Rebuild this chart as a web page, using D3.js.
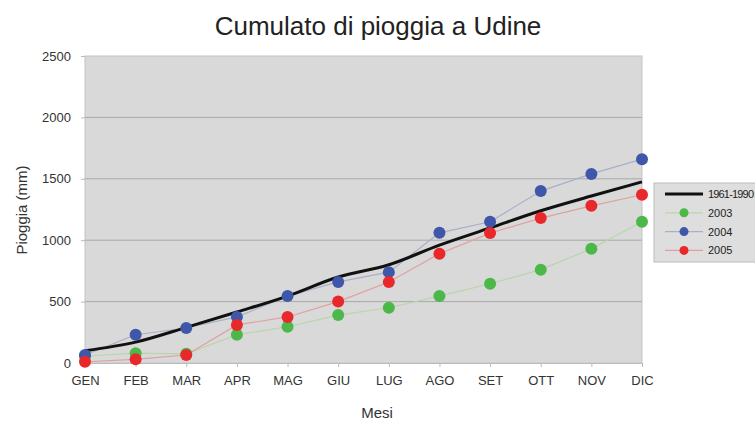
<!DOCTYPE html>
<meta charset="utf-8">
<style>
body { margin: 0; background: #fff; }
svg { font-family: "Liberation Sans", Arial, sans-serif; }
.tick text { fill: #333; font-size: 13px; }
</style>
<svg width="755" height="424"></svg>
<script src="https://d3js.org/d3.v7.min.js"></script>
<script>
// mesi e cumulati (mm)
var mesi = ["GEN","FEB","MAR","APR","MAG","GIU","LUG","AGO","SET","OTT","NOV","DIC"];
var normale = [100, 170, 290, 415, 545, 700, 800, 960, 1100, 1240, 1360, 1475];
var y2003 = [55, 80, 75, 230, 295, 390, 450, 545, 645, 760, 930, 1150];
var y2004 = [65, 230, 285, 375, 545, 660, 740, 1060, 1150, 1400, 1540, 1660];
var y2005 = [10, 30, 65, 310, 375, 500, 660, 890, 1058, 1180, 1280, 1370];
var yTicks = [0, 500, 1000, 1500, 2000, 2500];

var svg = d3.select("svg");
var pLeft = 85, pRight = 642, pTop = 56, pBottom = 363;

var x = d3.scalePoint().domain(mesi).range([pLeft, pRight]);
var y = d3.scaleLinear().domain([0, 2500]).range([pBottom, pTop]);

// sfondo area
svg.append("rect")
    .attr("x", pLeft).attr("y", pTop)
    .attr("width", pRight - pLeft).attr("height", pBottom - pTop)
    .attr("fill", "#d9d9d9")
    .attr("stroke", "#c4c4c4");

// griglia
svg.append("g").selectAll("line")
    .data(yTicks.slice(1, -1))
    .enter().append("line")
        .attr("x1", pLeft).attr("x2", pRight)
        .attr("y1", function(d) { return y(d); })
        .attr("y2", function(d) { return y(d); })
        .attr("stroke", "#a8a8a8");

svg.append("g")
    .attr("transform", "translate(" + pLeft + ",0)")
    .call(d3.axisLeft(y).tickValues(yTicks).tickFormat(d3.format("d")).tickSize(4).tickPadding(10))
    .call(function(g) { g.select(".domain").remove(); g.selectAll(".tick line").attr("stroke", "#bbb"); });

svg.append("g")
    .attr("transform", "translate(0," + pBottom + ")")
    .call(d3.axisBottom(x).tickSize(4).tickPadding(9))
    .call(function(g) { g.select(".domain").attr("stroke", "#bbb"); g.selectAll(".tick line").attr("stroke", "#bbb"); });

var serie = [
    {nome: "2003", val: y2003, col: "#4cb849", linea: "#b8d6a8"},
    {nome: "2004", val: y2004, col: "#3e57a8", linea: "#a8b0c8"},
    {nome: "2005", val: y2005, col: "#e8282b", linea: "#e0a0a0"}
];

var line = d3.line()
    .x(function(d, i) { return x(mesi[i]); })
    .y(function(d) { return y(d); });

serie.forEach(function(s) {
    svg.append("path")
        .attr("d", line(s.val))
        .attr("fill", "none")
        .attr("stroke", s.linea)
        .attr("stroke-width", 1.2);
});

svg.append("path")
    .attr("d", line.curve(d3.curveMonotoneX)(normale))
    .attr("fill", "none")
    .attr("stroke", "#111")
    .attr("stroke-width", 3);

serie.forEach(function(s) {
    svg.append("g").selectAll("circle")
        .data(s.val)
        .enter().append("circle")
            .attr("cx", function(d, i) { return x(mesi[i]); })
            .attr("cy", function(d) { return y(d); })
            .attr("r", 6)
            .attr("fill", s.col);
});

// titoli
svg.append("text")
    .attr("x", 378).attr("y", 35)
    .attr("text-anchor", "middle")
    .style("font-size", "26px")
    .attr("fill", "#222")
    .text("Cumulato di pioggia a Udine");

svg.append("text")
    .attr("transform", "translate(27,210) rotate(-90)")
    .attr("text-anchor", "middle")
    .style("font-size", "15px")
    .attr("fill", "#333")
    .text("Pioggia (mm)");

svg.append("text")
    .attr("x", 377).attr("y", 418)
    .attr("text-anchor", "middle")
    .style("font-size", "15px")
    .attr("fill", "#333")
    .text("Mesi");

// legenda
var leg = svg.append("g").attr("transform", "translate(654,183)");
leg.append("rect")
    .attr("width", 110).attr("height", 79)
    .attr("fill", "#dedede")
    .attr("stroke", "#bbb");

var voci = [{nome: "1961-1990", col: "#111", linea: "#111", nero: true}].concat(serie);
voci.forEach(function(v, i) {
    var g = leg.append("g").attr("transform", "translate(0," + (11 + i * 18.8) + ")");
    g.append("line")
        .attr("x1", 11).attr("x2", 49)
        .attr("stroke", v.linea)
        .attr("stroke-width", v.nero ? 3 : 1.2);
    if (!v.nero) {
        g.append("circle").attr("cx", 30).attr("r", 4.5).attr("fill", v.col);
    }
    g.append("text")
        .attr("x", 54).attr("y", 4)
        .style("font-size", "11px")
        .attr("fill", "#222")
        .attr("textLength", v.nero ? 46 : null)
        .text(v.nome);
});
</script>
